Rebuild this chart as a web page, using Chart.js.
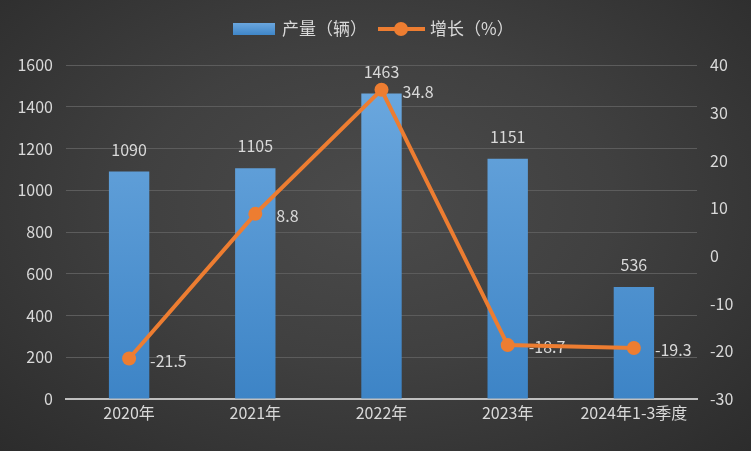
<!DOCTYPE html>
<html>
<head>
<meta charset="utf-8">
<script src="https://cdn.jsdelivr.net/npm/chart.js@4"></script>
<style>
  html, body { margin: 0; padding: 0; }
  body {
    width: 751px; height: 451px; overflow: hidden;
    background: radial-gradient(ellipse at 50% 45%, #4b4b4b 0%, #404040 45%, #2c2c2c 100%);
  }
</style>
</head>
<body>
<canvas id="chart" width="751" height="451"></canvas>
<script>
const labels = ["2020年", "2021年", "2022年", "2023年", "2024年1-3季度"];
const output = [1090, 1105, 1463, 1151, 536];
const growth = [-21.5, 8.8, 34.8, -18.7, -19.3];
const outputName = "产量（辆）";
const growthName = "增长（%）";

const FONT = '"Noto Sans CJK SC", "Noto Sans", sans-serif';
const TEXT = "#d9d9d9";
const ORANGE = "#ed7d31";

const labelPlugin = {
  id: "labels",
  // growth labels go under the line, so draw them right after the bars
  afterDatasetDraw(chart, args) {
    const ctx = chart.ctx;
    if (args.index === 0) {
      ctx.save();
      ctx.font = "16px " + FONT;
      ctx.fillStyle = TEXT;
      ctx.textBaseline = "middle";
      ctx.textAlign = "center";
      chart.getDatasetMeta(0).data.forEach((bar, i) => {
        ctx.fillText(output[i], bar.x, bar.y - 22);
      });
      ctx.textAlign = "left";
      chart.getDatasetMeta(1).data.forEach((pt, i) => {
        ctx.fillText(growth[i], pt.x + 21, pt.y + 2);
      });
      ctx.restore();
    }
  },
  afterDraw(chart) {
    const ctx = chart.ctx;
    ctx.save();
    ctx.font = "17px " + FONT;
    ctx.textBaseline = "middle";
    const y = 29;
    // bar legend
    const g = ctx.createLinearGradient(0, y - 6, 0, y + 6);
    g.addColorStop(0, "#6aa6de");
    g.addColorStop(1, "#3f86c8");
    ctx.fillStyle = g;
    ctx.fillRect(233, y - 6, 42, 12);
    ctx.fillStyle = TEXT;
    ctx.textAlign = "left";
    ctx.fillText(outputName, 282, y);
    // line legend
    ctx.strokeStyle = ORANGE;
    ctx.lineWidth = 4;
    ctx.beginPath();
    ctx.moveTo(378, y);
    ctx.lineTo(425, y);
    ctx.stroke();
    ctx.fillStyle = ORANGE;
    ctx.beginPath();
    ctx.arc(401, y, 7, 0, Math.PI * 2);
    ctx.fill();
    ctx.fillStyle = TEXT;
    ctx.fillText(growthName, 430, y);
    ctx.restore();
  }
};

function barGradient(context) {
  const area = context.chart.chartArea;
  if (!area) return "#5b9bd5";
  const g = context.chart.ctx.createLinearGradient(0, area.top, 0, area.bottom);
  g.addColorStop(0, "#6eaae0");
  g.addColorStop(1, "#3d84c6");
  return g;
}

new Chart(document.getElementById("chart"), {
  type: "bar",
  data: {
    labels: labels,
    datasets: [
      {
        type: "bar",
        label: outputName,
        data: output,
        backgroundColor: barGradient,
        yAxisID: "y",
        order: 1,
        barPercentage: 0.64,
        categoryPercentage: 0.5
      },
      {
        type: "line",
        label: growthName,
        data: growth,
        borderColor: ORANGE,
        backgroundColor: ORANGE,
        borderWidth: 4,
        pointRadius: 7,
        pointHoverRadius: 7,
        pointBackgroundColor: ORANGE,
        pointBorderWidth: 0,
        tension: 0,
        yAxisID: "y1",
        order: 0
      }
    ]
  },
  options: {
    responsive: false,
    animation: false,
    devicePixelRatio: 1,
    layout: { padding: { top: 65, left: 0, right: 0, bottom: 0 } },
    plugins: {
      legend: { display: false },
      tooltip: { enabled: false }
    },
    scales: {
      x: {
        grid: { display: false, drawTicks: false },
        border: { color: "#bfbfbf", width: 2 },
        ticks: { color: TEXT, font: { size: 16, family: FONT }, padding: 4, maxRotation: 0 },
        afterFit(s) { s.height = 52; }
      },
      y: {
        position: "left",
        min: 0, max: 1600,
        ticks: { stepSize: 200, color: TEXT, font: { size: 16, family: FONT }, padding: 13,
                 callback: v => String(v) },
        grid: { color: "#5c5c5c", lineWidth: 1, drawTicks: false },
        border: { display: false },
        afterFit(s) { s.width = 66; }
      },
      y1: {
        position: "right",
        min: -30, max: 40,
        ticks: { stepSize: 10, color: TEXT, font: { size: 16, family: FONT }, padding: 13 },
        grid: { display: false, drawTicks: false },
        border: { display: false },
        afterFit(s) { s.width = 54; }
      }
    }
  },
  plugins: [labelPlugin]
});
</script>
</body>
</html>
